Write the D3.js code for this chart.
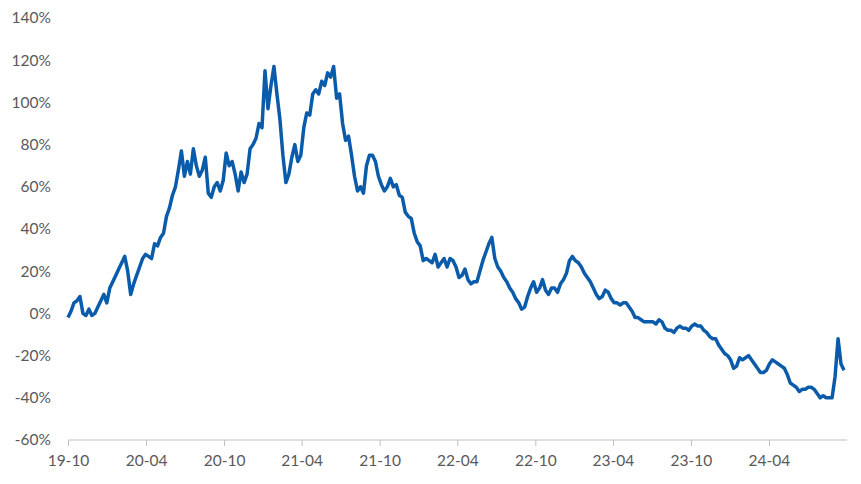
<!DOCTYPE html>
<html><head><meta charset="utf-8">
<script src="https://cdn.jsdelivr.net/npm/d3@7"></script>
<style>body{margin:0;background:#fff}text{font-family:Lato,"Noto Sans",sans-serif;fill:#595959}</style>
</head><body>
<script>
// weekly values (%) starting 2019-10-01
const startDate = "2019-10-01"
const values = [
-2,1,5,6,8,0,-1,2,-1,0,3,6,9,5,12,15,18,21,24,27,20,9,14,18,22,26,28,27,
26,33,32,36,38,46,50,56,60,68,77,65,72,66,78,70,65,68,74,57,55,60,62,58,63,76,70,72,66,58,67,62,66,
78,80,83,90,88,
115,97,108,117,104,92,75,62,66,74,80,72,75,88,95,94,104,106,104,110,108,114,112,117,102,104,90,82,84,75,65,58,60,57,70,75,75,72,65,61,58,60,64,60,61,56,55,48,46,45,38,34,32,25,26,25,24,28,22,24,26,22,26,25,22,17,18,21,16,14,15,15,20,25,29,33,36,26,22,20,17,15,12,10,7,5,2,3,8,12,15,10,12,16,11,9,12,12,10,14,16,19,25,27,25,24,22,19,17,15,12,9,7,8,11,10,7,5,5,4,5,5,3,1,-2,-2,-3,-4,-4,-4,-4,-5,-3,-4,-7,-8,-8,-9,-7,-6,-7,-7,-8,-6,-5,-6,-6,-8,-9,-11,-12,-12,-15,-17,-19,-20,-22,-26,-25,-21,-22,-21,-20,-22,-24,-26,-28,-28,-27,-24,-22,-23,-24,-25,-26,-29,-33,-34,-35,-37,-36,-36,-35,-35,-36,-38,-40,-39,-40,-40,-40,-30,-12,-24,-27]
const yTicks = [140,120,100,80,60,40,20,0,-20,-40,-60]
const xTicks = ["2019-10-01","2020-04-01","2020-10-01","2021-04-01","2021-10-01","2022-04-01","2022-10-01","2023-04-01","2023-10-01","2024-04-01"]

const parse = d3.timeParse("%Y-%m-%d")
const t0 = parse(startDate)
const data = values.map((v,i) => ({date: d3.timeDay.offset(t0, i*7), v}))

const svg = d3.select("body").append("svg").attr("width",861).attr("height",484)
const x = d3.scaleTime().domain([t0, parse("2024-10-01")]).range([68,847])
const y = d3.scaleLinear().domain([-60,140]).range([440,18])

svg.append("g").selectAll("text").data(yTicks).join("text")
  .attr("x",51).attr("y",d=>y(d)).attr("dy","0.35em").attr("text-anchor","end")
  .attr("font-size",15.5).text(d=>d+"%")

const xa = svg.append("g").attr("transform","translate(0,440)")
  .call(d3.axisBottom(x).tickValues(xTicks.map(parse)).tickFormat(d3.timeFormat("%y-%m")).tickSize(6).tickSizeOuter(0))
xa.select(".domain").attr("stroke","#bfbfbf").attr("d","M68,0H847")
xa.selectAll("line").attr("stroke","#bfbfbf")
xa.selectAll("text").attr("font-size",15.5).attr("dy","1.1em").style("fill","#595959")

svg.append("path").datum(data)
  .attr("fill","none").attr("stroke","#0a5cab").attr("stroke-width",3.5).attr("stroke-linejoin","round")
  .attr("d", d3.line().x(d=>x(d.date)).y(d=>y(d.v)))
</script>
</body></html>
